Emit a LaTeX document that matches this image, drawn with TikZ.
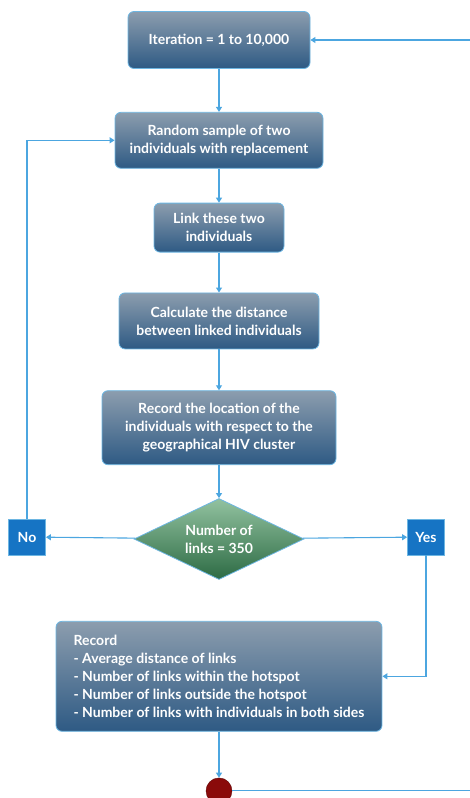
\documentclass[tikz,border=0pt]{standalone}
\usepackage{fontspec}
\setmainfont{Lato}
\usetikzlibrary{arrows.meta,positioning,shapes.geometric}

\definecolor{boxtop}{HTML}{8C9DAE}
\definecolor{boxmid}{HTML}{3F6890}
\definecolor{boxbot}{HTML}{2E5A84}
\definecolor{boxedge}{HTML}{6DB6E2}
\definecolor{flowblue}{HTML}{4CA6E0}
\definecolor{dectop}{HTML}{92C2A0}
\definecolor{decbot}{HTML}{2D6B44}
\definecolor{answer}{HTML}{1674C4}
\definecolor{stopred}{HTML}{8A0A0A}

\begin{document}
\begin{tikzpicture}[
  x=1pt,y=-1pt,
  stage/.style={draw=boxedge,line width=0.8pt,rounded corners=6pt,top color=boxtop,middle color=boxmid,bottom color=boxbot,text=white,align=center,inner sep=0pt,font=\fontsize{14}{18}\selectfont\bfseries},
  choice/.style={diamond,aspect=2.1,draw=boxedge,line width=0.8pt,top color=dectop,bottom color=decbot,text=white,align=center,inner sep=0pt,minimum width=170pt,minimum height=81pt,font=\fontsize{14}{18}\selectfont\bfseries},
  answerbox/.style={draw=boxedge,line width=0.8pt,fill=answer,text=white,inner sep=0pt,minimum width=37pt,minimum height=36pt,font=\fontsize{14}{18}\selectfont\bfseries},
  flow/.style={-{Triangle[length=5pt,width=6pt]},draw=flowblue,line width=1.1pt},
  node distance=40pt
]
  \useasboundingbox (0,0) rectangle (469,798);

  \node[stage,minimum width=182pt,minimum height=57pt] (iter) at (219,40) {Iteration = 1 to 10,000};
  \node[stage,minimum width=208pt,minimum height=56pt,below=43pt of iter] (pair) {Random sample of two\\individuals with replacement};
  \node[stage,minimum width=130pt,minimum height=49pt,below=34pt of pair] (link) {Link these two\\individuals};
  \node[stage,minimum width=200pt,minimum height=56pt,below=of link] (dist) {Calculate the distance\\between linked individuals};
  \node[stage,minimum width=234pt,minimum height=74pt,below=41pt of dist] (loc) {Record the location of the\\individuals with respect to the\\geographical HIV cluster};
  \node[choice,below=33pt of loc] (test) {Number of\\links = 350};
  \node[answerbox] (no) at (27,537) {No};
  \node[answerbox] (yes) at (426,537) {Yes};
  \node[stage,align=left,minimum width=326pt,minimum height=110pt,below=41pt of test] (summ) {Record\\- Average distance of links\\- Number of links within the hotspot\\- Number of links outside the hotspot\\- Number of links with individuals in both sides};
  \node[circle,draw=stopred!70!black,fill=stopred,minimum size=26pt,inner sep=0pt,below=46pt of summ] (stop) {};
  \coordinate (back) at (490,0);

  \draw[flow] (iter) -- (pair);
  \draw[flow] (pair) -- (link);
  \draw[flow] (link) -- (dist);
  \draw[flow] (dist) -- (loc);
  \draw[flow] (loc) -- (test);
  \draw[flow] (test) -- (no);
  \draw[flow] (test) -- (yes);
  \draw[flow] (no.north) |- (pair.west);
  \draw[flow] (yes.south) |- (summ.east);
  \draw[flow] (summ) -- (stop);
  \draw[flow] (stop.east) -- (stop.east -| back) |- (iter.east);
\end{tikzpicture}
\end{document}
